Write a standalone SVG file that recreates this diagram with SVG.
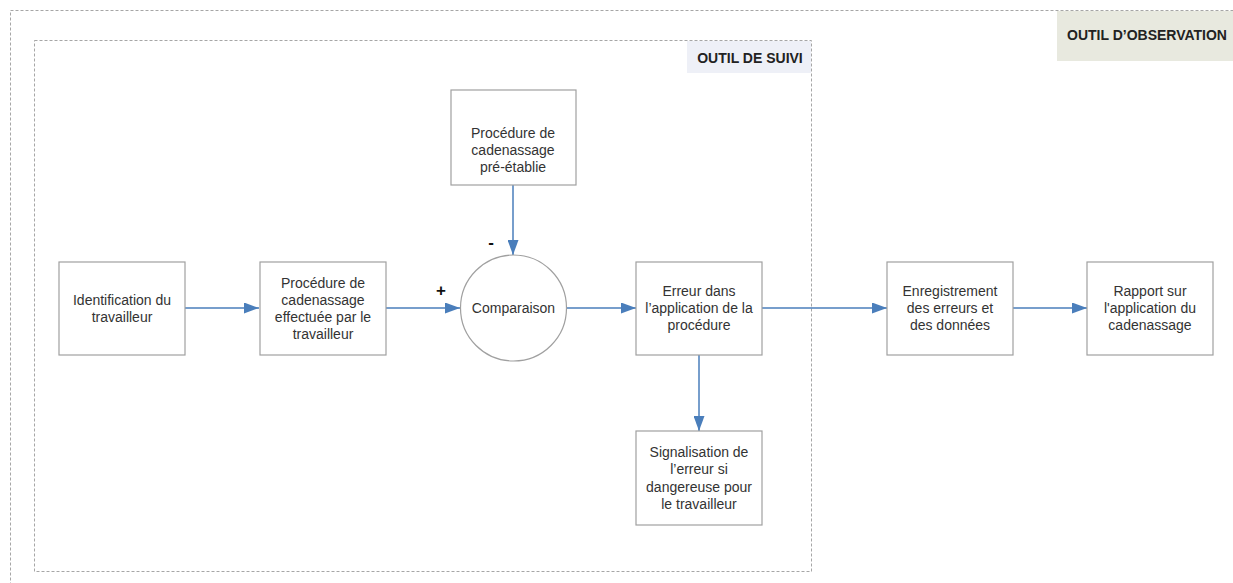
<svg xmlns="http://www.w3.org/2000/svg" width="1233" height="583" viewBox="0 0 1233 583">
<style>
.frame{fill:none;stroke:#a6a6a6;stroke-width:1;stroke-dasharray:3 2}
.box{fill:#fff;stroke:#a0a0a0;stroke-width:1.2}
.t{font-family:"Liberation Sans",Arial,sans-serif;font-size:14px;fill:#333;text-anchor:middle}
.lbl{font-family:"Liberation Sans",Arial,sans-serif;font-size:14px;font-weight:bold;fill:#222;text-anchor:middle}
.sign{font-family:"Liberation Sans",Arial,sans-serif;font-size:17px;font-weight:bold;fill:#111;text-anchor:middle}
.c{fill:none;stroke:#4a7ebb;stroke-width:1.5}
</style>
<defs>
<marker id="ah" markerWidth="15" markerHeight="11" refX="15" refY="5.5" orient="auto" markerUnits="userSpaceOnUse">
<path d="M0,0 L15,5.5 L0,11 Z" fill="#4a7ebb"/>
</marker>
</defs>
<rect width="1233" height="583" fill="#fff"/>
<g id="outil-observation">
<rect class="frame" x="10.5" y="10.5" width="1240" height="600"/>
<rect x="1057" y="11" width="176" height="50" fill="#e8e9df"/>
<text class="lbl" x="1147" y="40">OUTIL D’OBSERVATION</text>
</g>
<g id="outil-suivi">
<rect class="frame" x="34.5" y="40.5" width="777" height="531"/>
<rect x="687" y="41" width="124" height="32" fill="#eef0f7"/>
<text class="lbl" x="750" y="63">OUTIL DE SUIVI</text>
</g>
<g id="connectors">
<line class="c" x1="185" y1="308" x2="259" y2="308" marker-end="url(#ah)"/>
<line class="c" x1="386" y1="308" x2="460" y2="308" marker-end="url(#ah)"/>
<line class="c" x1="513" y1="185" x2="513" y2="255" marker-end="url(#ah)"/>
<line class="c" x1="566" y1="308" x2="636" y2="308" marker-end="url(#ah)"/>
<line class="c" x1="762" y1="308" x2="887" y2="308" marker-end="url(#ah)"/>
<line class="c" x1="1013" y1="308" x2="1087" y2="308" marker-end="url(#ah)"/>
<line class="c" x1="699" y1="355" x2="699" y2="431" marker-end="url(#ah)"/>
<text class="sign" x="441" y="296">+</text>
<text class="sign" x="491" y="248">-</text>
</g>
<g id="identification">
<rect class="box" x="59" y="262" width="126" height="93"/>
<text class="t" x="122" y="305">Identification du</text>
<text class="t" x="122" y="322">travailleur</text>
</g>
<g id="procedure-effectuee">
<rect class="box" x="260" y="262" width="126" height="93"/>
<text class="t" x="323" y="288">Procédure de</text>
<text class="t" x="323" y="305">cadenassage</text>
<text class="t" x="323" y="322">effectuée par le</text>
<text class="t" x="323" y="339">travailleur</text>
</g>
<g id="procedure-preetablie">
<rect class="box" x="451" y="90" width="125" height="95"/>
<text class="t" x="513" y="138">Procédure de</text>
<text class="t" x="513" y="155">cadenassage</text>
<text class="t" x="513" y="172">pré-établie</text>
</g>
<g id="comparaison">
<circle cx="513.5" cy="308" r="53" fill="#fff" stroke="#a0a0a0" stroke-width="1.2"/>
<text class="t" x="513.5" y="313">Comparaison</text>
</g>
<g id="erreur">
<rect class="box" x="636" y="262" width="126" height="93"/>
<text class="t" x="699" y="296">Erreur dans</text>
<text class="t" x="699" y="313">l’application de la</text>
<text class="t" x="699" y="330">procédure</text>
</g>
<g id="signalisation">
<rect class="box" x="636" y="431" width="126" height="94"/>
<text class="t" x="699" y="457">Signalisation de</text>
<text class="t" x="699" y="474">l’erreur si</text>
<text class="t" x="699" y="492">dangereuse pour</text>
<text class="t" x="699" y="509">le travailleur</text>
</g>
<g id="enregistrement">
<rect class="box" x="887" y="262" width="126" height="93"/>
<text class="t" x="950" y="296">Enregistrement</text>
<text class="t" x="950" y="313">des erreurs et</text>
<text class="t" x="950" y="330">des données</text>
</g>
<g id="rapport">
<rect class="box" x="1087" y="262" width="126" height="93"/>
<text class="t" x="1150" y="296">Rapport sur</text>
<text class="t" x="1150" y="313">l'application du</text>
<text class="t" x="1150" y="330">cadenassage</text>
</g>
</svg>
